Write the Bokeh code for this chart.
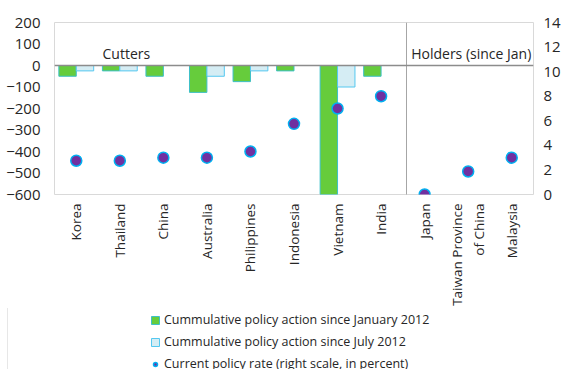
import math
from bokeh.plotting import figure
from bokeh.layouts import column
from bokeh.models import (Range1d, LinearAxis, Span, Label, Legend,
                          LegendItem, ColumnDataSource, FixedTicker)
from bokeh.transform import dodge
from bokeh.embed import file_html
from bokeh.resources import INLINE

nan = float("nan")

countries = ["Korea", "Thailand", "China", "Australia", "Philippines", "Indonesia",
             "Vietnam", "India", "Japan", "Taiwan Province\nof China", "Malaysia"]
since_jan_2012 = [-50, -25, -50, -125, -75, -25, -600, -50, nan, nan, nan]
since_jul_2012 = [-25, -25, nan, -50, -25, nan, -100, nan, nan, nan, nan]
policy_rate = [2.75, 2.75, 3.0, 3.0, 3.5, 5.75, 7.0, 8.0, 0.0, 1.875, 3.0]
left_ticks = [-600, -500, -400, -300, -200, -100, 0, 100, 200]
right_ticks = [0, 2, 4, 6, 8, 10, 12, 14]
legend_labels = ["Cummulative policy action since January 2012",
                 "Cummulative policy action since July 2012",
                 "Current policy rate (right scale, in percent)"]
n_cutters = 8

FONT = "Open Sans"
TXT = "#262626"
GREEN = dict(fill_color="#66CC3C", line_color="#3EC0C8", line_width=1)
BLUE = dict(fill_color="#D5EDF4", line_color="#55C8F0", line_width=1)
DOT = dict(fill_color="#7030A0", line_color="#00B0F0", line_width=1.5)

idx = list(range(len(countries)))
x_lo, x_hi = -0.5, len(countries) - 0.5
src = ColumnDataSource(dict(i=idx, jan=since_jan_2012, jul=since_jul_2012, rate=policy_rate))

p = figure(width=563, height=308, x_range=Range1d(x_lo, x_hi),
           y_range=Range1d(-600, 200), output_backend="svg", toolbar_location=None,
           min_border_left=54, min_border_right=30, min_border_top=22, min_border_bottom=114)
p.frame_align = False
p.extra_y_ranges = {"rate": Range1d(0, 14)}
p.outline_line_color = "#D9D9D9"
p.outline_line_width = 1
p.xgrid.visible = False
p.ygrid.visible = False

# axes
p.yaxis.ticker = FixedTicker(ticks=left_ticks, minor_ticks=[])
ax_r = LinearAxis(y_range_name="rate", ticker=FixedTicker(ticks=right_ticks, minor_ticks=[]))
p.add_layout(ax_r, "right")
for ax in (p.yaxis[0], ax_r):
    ax.axis_line_color = None
    ax.major_tick_line_color = None
    ax.minor_tick_line_color = None
    ax.major_tick_out = 0
    ax.major_tick_in = 0
    ax.minor_tick_out = 0
    ax.major_label_text_font = FONT
    ax.major_label_text_font_size = "15px"
    ax.major_label_text_color = TXT
p.yaxis[0].major_label_standoff = 14
ax_r.major_label_standoff = 10
xa = p.xaxis[0]
xa.ticker = FixedTicker(ticks=idx, minor_ticks=[])
xa.major_label_overrides = {i: name for i, name in zip(idx, countries)}
xa.axis_line_color = None
xa.major_tick_line_color = None
xa.minor_tick_line_color = None
xa.major_tick_out = 0
xa.major_tick_in = 0
xa.minor_tick_out = 0
xa.major_label_orientation = math.pi / 2
xa.major_label_text_font = FONT
xa.major_label_text_font_size = "13.5px"
xa.major_label_text_color = TXT
xa.major_label_standoff = 9

# bars and dots
r_jan = p.vbar(x=dodge("i", -0.2), top="jan", bottom=0, width=0.4, source=src, **GREEN)
r_jul = p.vbar(x=dodge("i", 0.2), top="jul", bottom=0, width=0.4, source=src, **BLUE)
p.add_layout(Span(location=0, dimension="width", line_color="#8C8C8C", line_width=1.5))
r_rate = p.scatter(x="i", y="rate", source=src, y_range_name="rate", size=11, **DOT)

# group separator: a single long tick between the two groups
sep = LinearAxis(ticker=FixedTicker(ticks=[n_cutters - 0.5 + 0.075], minor_ticks=[]),
                 fixed_location=-600, axis_line_color=None,
                 major_tick_in=172, major_tick_out=39, major_tick_line_color="#A6A6A6",
                 major_tick_line_width=1, minor_tick_line_color=None,
                 major_label_text_alpha=0, major_label_text_font_size="1px")
p.add_layout(sep, "below")

p.add_layout(Label(x=1.15, y=56, text="Cutters", text_align="center", text_baseline="middle",
                   text_font=FONT, text_font_size="14px", text_color=TXT))
p.add_layout(Label(x=9.07, y=56, text="Holders (since Jan)", text_align="center",
                   text_baseline="middle", text_font=FONT, text_font_size="14px", text_color=TXT))

# legend strip
q = figure(width=563, height=61, x_range=Range1d(0, 1), y_range=Range1d(0, 1),
           output_backend="svg", toolbar_location=None, min_border=0,
           min_border_left=0, min_border_right=0, min_border_top=0, min_border_bottom=0,
           x_axis_location=None, y_axis_location=None)
q.frame_align = False
q.outline_line_color = None
q.xgrid.visible = False
q.ygrid.visible = False
# legend proxies: same styles, drawn outside the visible range
l_jan = q.vbar(x=[5], top=[5], width=0.1, **GREEN)
l_jul = q.vbar(x=[5], top=[5], width=0.1, **BLUE)
l_rate = q.scatter(x=[5], y=[5], size=8, **DOT)
blank = q.scatter(x=[5], y=[5], fill_alpha=0, line_alpha=0)

box = Legend(items=[LegendItem(label=" ", renderers=[blank])], location=(7, -40),
             padding=0, margin=0, label_width=700, label_height=100, glyph_width=1,
             glyph_height=1, border_line_color="#D0D0D0", border_line_width=1,
             background_fill_alpha=0, label_text_alpha=0)
q.add_layout(box, "center")
leg = Legend(items=[LegendItem(label=lab, renderers=[r]) for lab, r in
                    zip(legend_labels, [l_jan, l_jul, l_rate])],
             location=(150, -3), padding=0, margin=0, spacing=5, label_height=16,
             glyph_width=10, glyph_height=10, label_standoff=4,
             border_line_color=None, background_fill_alpha=0,
             label_text_font=FONT, label_text_font_size="12.5px", label_text_color=TXT)
q.add_layout(leg, "center")

open("out.html", "w").write(file_html(column(p, q, spacing=0), INLINE))
